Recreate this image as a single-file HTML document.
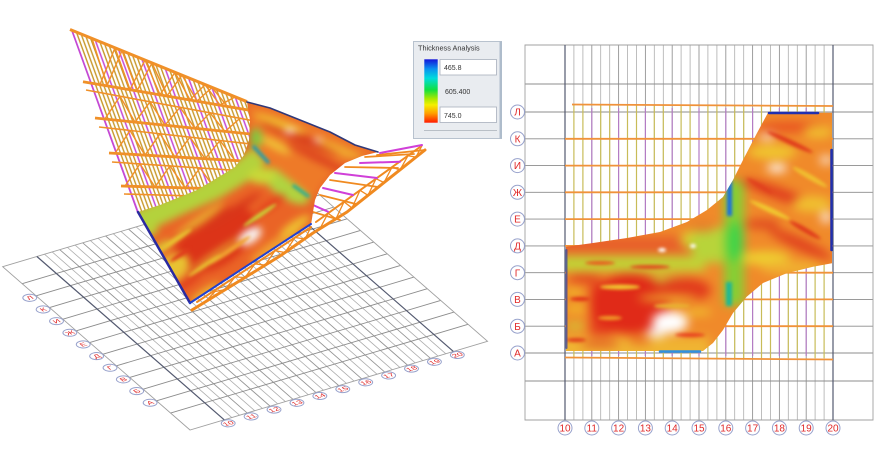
<!DOCTYPE html>
<html><head><meta charset="utf-8"><style>
html,body{margin:0;padding:0;background:#fff;width:890px;height:450px;overflow:hidden}
svg{display:block}
</style></head><body>
<svg width="890" height="450" viewBox="0 0 890 450" xmlns="http://www.w3.org/2000/svg" xmlns:xlink="http://www.w3.org/1999/xlink" font-family="'Liberation Sans', sans-serif">
<defs>
  <filter id="bl" x="-10%" y="-10%" width="120%" height="120%" color-interpolation-filters="sRGB"><feGaussianBlur stdDeviation="5"/></filter>
  <filter id="bl2" x="-10%" y="-10%" width="120%" height="120%" color-interpolation-filters="sRGB"><feGaussianBlur stdDeviation="4"/></filter>
  <filter id="bl1" x="-30%" y="-30%" width="160%" height="160%" color-interpolation-filters="sRGB"><feGaussianBlur stdDeviation="1.5"/></filter>
  <clipPath id="psc"><polygon points="566,246.7 593,243 627,238 660,232 687,222 707,210 723,197 733,180 743,160 757,133 768,112.7 832,112.7 832,263.3 813,266.7 786.7,273.3 763,283 746.7,296.7 733,313 723,330 713,343 703,351 566,351"/></clipPath>
  <clipPath id="s3c"><polygon points="138,212 160,205 197,190 217,178 235,167 244,155 249,140 250,120 247,102 270,108 290,116 330,132 355,145 378,152 362,156 345,163 330,175 320,188 315,200 313,212 311,225 190,303"/></clipPath>
  <linearGradient id="lg" x1="0" y1="0" x2="0" y2="1">
    <stop offset="0" stop-color="#1414d8"/><stop offset="0.15" stop-color="#0a90f0"/>
    <stop offset="0.3" stop-color="#00dcdc"/><stop offset="0.48" stop-color="#10e040"/>
    <stop offset="0.62" stop-color="#a8e800"/><stop offset="0.72" stop-color="#f4f000"/>
    <stop offset="0.85" stop-color="#ffa000"/><stop offset="1" stop-color="#ff1a00"/>
  </linearGradient>
  <pattern id="fanp" patternUnits="userSpaceOnUse" width="18.67" height="20" patternTransform="translate(71.7 30) rotate(-20) translate(-1 0)">
    <line x1="1" y1="-1" x2="1" y2="21" stroke="#c448d4" stroke-width="1.5"/>
    <line x1="4.73" y1="-1" x2="4.73" y2="21" stroke="#c8982a" stroke-width="1.4"/>
    <line x1="8.47" y1="-1" x2="8.47" y2="21" stroke="#c8982a" stroke-width="1.4"/>
    <line x1="12.2" y1="-1" x2="12.2" y2="21" stroke="#c8982a" stroke-width="1.4"/>
    <line x1="15.93" y1="-1" x2="15.93" y2="21" stroke="#c8982a" stroke-width="1.4"/>
  </pattern>
  <g id="grd" fill="none">
    <path vector-effect="non-scaling-stroke" stroke="#aeaeae" stroke-width="0.8" d="M573.9 45V420M582.9 45V420M600.7 45V420M609.7 45V420M627.5 45V420M636.5 45V420M654.3 45V420M663.3 45V420M681.1 45V420M690.1 45V420M707.9 45V420M716.9 45V420M734.7 45V420M743.7 45V420M761.5 45V420M770.5 45V420M788.3 45V420M797.3 45V420M815.1 45V420M824.1 45V420"/>
    <path vector-effect="non-scaling-stroke" stroke="#959595" stroke-width="0.9" d="M591.8 45V420M618.6 45V420M645.4 45V420M672.2 45V420M699 45V420M725.8 45V420M752.6 45V420M779.4 45V420M806.2 45V420"/>
    <path vector-effect="non-scaling-stroke" stroke="#8c8c8c" stroke-width="0.9" d="M525 84H873M525 112H873M525 138.8H873M525 165.6H873M525 192.3H873M525 219.1H873M525 245.9H873M525 272.7H873M525 299.4H873M525 326.2H873M525 353H873M525 381H873"/>
    <path vector-effect="non-scaling-stroke" stroke="#a0a0a0" stroke-width="0.9" d="M525 45H873V420H525Z"/>
    <path vector-effect="non-scaling-stroke" stroke="#545a70" stroke-width="1.2" d="M565 45V420M833 45V420"/>
  </g>
  <g id="lbl">
    <g fill="#fff" stroke="#98a2cc" stroke-width="1">
      <circle vector-effect="non-scaling-stroke" cx="517.5" cy="112" r="7"/>
      <circle vector-effect="non-scaling-stroke" cx="517.5" cy="138.8" r="7"/>
      <circle vector-effect="non-scaling-stroke" cx="517.5" cy="165.6" r="7"/>
      <circle vector-effect="non-scaling-stroke" cx="517.5" cy="192.3" r="7"/>
      <circle vector-effect="non-scaling-stroke" cx="517.5" cy="219.1" r="7"/>
      <circle vector-effect="non-scaling-stroke" cx="517.5" cy="245.9" r="7"/>
      <circle vector-effect="non-scaling-stroke" cx="517.5" cy="272.7" r="7"/>
      <circle vector-effect="non-scaling-stroke" cx="517.5" cy="299.4" r="7"/>
      <circle vector-effect="non-scaling-stroke" cx="517.5" cy="326.2" r="7"/>
      <circle vector-effect="non-scaling-stroke" cx="517.5" cy="353" r="7"/>
      <circle vector-effect="non-scaling-stroke" cx="565" cy="428" r="7"/>
      <circle vector-effect="non-scaling-stroke" cx="591.8" cy="428" r="7"/>
      <circle vector-effect="non-scaling-stroke" cx="618.6" cy="428" r="7"/>
      <circle vector-effect="non-scaling-stroke" cx="645.4" cy="428" r="7"/>
      <circle vector-effect="non-scaling-stroke" cx="672.2" cy="428" r="7"/>
      <circle vector-effect="non-scaling-stroke" cx="699" cy="428" r="7"/>
      <circle vector-effect="non-scaling-stroke" cx="725.8" cy="428" r="7"/>
      <circle vector-effect="non-scaling-stroke" cx="752.6" cy="428" r="7"/>
      <circle vector-effect="non-scaling-stroke" cx="779.4" cy="428" r="7"/>
      <circle vector-effect="non-scaling-stroke" cx="806.2" cy="428" r="7"/>
      <circle vector-effect="non-scaling-stroke" cx="833" cy="428" r="7"/>
    </g>
    <g fill="#e02828" font-size="10" text-anchor="middle">
      <text x="517.5" y="115.6">Л</text>
      <text x="517.5" y="142.4">К</text>
      <text x="517.5" y="169.2">И</text>
      <text x="517.5" y="195.9">Ж</text>
      <text x="517.5" y="222.7">Е</text>
      <text x="517.5" y="249.5">Д</text>
      <text x="517.5" y="276.3">Г</text>
      <text x="517.5" y="303">В</text>
      <text x="517.5" y="329.8">Б</text>
      <text x="517.5" y="356.6">А</text>
      <text x="565" y="431.6">10</text>
      <text x="591.8" y="431.6">11</text>
      <text x="618.6" y="431.6">12</text>
      <text x="645.4" y="431.6">13</text>
      <text x="672.2" y="431.6">14</text>
      <text x="699" y="431.6">15</text>
      <text x="725.8" y="431.6">16</text>
      <text x="752.6" y="431.6">17</text>
      <text x="779.4" y="431.6">18</text>
      <text x="806.2" y="431.6">19</text>
      <text x="833" y="431.6">20</text>
    </g>
  </g>
</defs>

<rect width="890" height="450" fill="#fff"/>

<!-- ================= RIGHT: PLAN VIEW ================= -->
<use xlink:href="#grd" href="#grd"/>
<path fill="none" stroke="#c8bc58" stroke-width="1.2" d="M573.9 105V358M582.9 105V358M600.7 105V358M609.7 105V358M627.5 105V358M636.5 105V358M654.3 105V358M663.3 105V358M681.1 105V358M690.1 105V358M707.9 105V358M716.9 105V358M734.7 105V358M743.7 105V358M761.5 105V358M770.5 105V358M788.3 105V358M797.3 105V358M815.1 105V358M824.1 105V358"/>
<path fill="none" stroke="#b47cc4" stroke-width="1.2" d="M591.8 108V356M618.6 108V356M645.4 108V356M672.2 108V356M699 108V356M725.8 108V356M752.6 108V356M779.4 108V356M806.2 108V356"/>
<path fill="none" stroke="#f0923a" stroke-width="1.8" d="M572 104.5L833 106M565 138.8H833M565 165.6H833M565 192.3H833M565 219.1H833M565 245.9H833M565 272.7H833M565 299.4H833M565 326.2H833M565 357.5L833 359.5"/>

<g clip-path="url(#psc)">
  <g filter="url(#bl)">
    <rect x="545" y="95" width="310" height="275" fill="#f08a2a"/>
    <rect x="550" y="236" width="160" height="18" fill="#e8602a"/>
    <rect x="560" y="256" width="145" height="15" fill="#c0d436"/>
    <ellipse cx="700" cy="240" rx="20" ry="10" fill="#d8d030"/>
    <ellipse cx="585" cy="279" rx="18" ry="4" fill="#e03c1c"/>
    <ellipse cx="655" cy="280" rx="40" ry="4" fill="#c8d438"/>
    <rect x="590" y="284" width="22" height="52" fill="#e4401e"/>
    <ellipse cx="630" cy="304" rx="40" ry="30" fill="#e02a18"/>
    <ellipse cx="683" cy="290" rx="28" ry="12" fill="#e23a1c"/>
    <ellipse cx="668" cy="298" rx="30" ry="3" fill="#f0c030"/>
    <ellipse cx="574" cy="292" rx="9" ry="3" fill="#f0c828"/>
    <ellipse cx="576" cy="309" rx="11" ry="3" fill="#f0c828"/>
    <ellipse cx="575" cy="326" rx="10" ry="3" fill="#c8d438"/>
    <rect x="550" y="337" width="160" height="25" fill="#f0b432"/>
    <ellipse cx="600" cy="344" rx="20" ry="3" fill="#e04a20"/>
    <ellipse cx="640" cy="341" rx="12" ry="3" fill="#e86020"/>
    <ellipse cx="698" cy="312" rx="14" ry="3" fill="#f0c830"/>
    <ellipse cx="670" cy="322" rx="18" ry="11" fill="#ffffff"/>
    <ellipse cx="656" cy="333" rx="10" ry="5" fill="#f8eee8"/>
    <ellipse cx="714" cy="245" rx="24" ry="18" fill="#b8d43a"/>
    <ellipse cx="702" cy="226" rx="14" ry="6" fill="#e8802a"/>
    <rect x="724" y="180" width="20" height="125" fill="#86cf34"/>
    <ellipse cx="735" cy="242" rx="8" ry="20" fill="#40d448"/>
    <ellipse cx="780" cy="194" rx="42" ry="6" transform="rotate(20 780 194)" fill="#e03c1e"/>
    <ellipse cx="800" cy="244" rx="35" ry="6" transform="rotate(25 800 244)" fill="#e0401e"/>
    <ellipse cx="790" cy="127" rx="35" ry="5" fill="#e85020"/>
    <ellipse cx="762" cy="224" rx="18" ry="5" fill="#e04a20"/>
    <ellipse cx="772" cy="152" rx="25" ry="7" fill="#f0c830"/>
    <ellipse cx="812" cy="204" rx="20" ry="8" fill="#f0c030"/>
    <ellipse cx="765" cy="258" rx="25" ry="7" fill="#eed030"/>
    <ellipse cx="818" cy="132" rx="15" ry="6" fill="#f0c030"/>
    <ellipse cx="792" cy="268" rx="32" ry="7" fill="#f0b030"/>
    <ellipse cx="777" cy="168" rx="10" ry="4" fill="#ffffff"/>
    <ellipse cx="826" cy="160" rx="6" ry="4" fill="#fbf0ea"/>
    <ellipse cx="767" cy="137" rx="8" ry="3" fill="#fbf0ea"/>
    <ellipse cx="826" cy="217" rx="5" ry="6" fill="#fbf0ea"/>
  </g>
  <g filter="url(#bl1)">
    <ellipse cx="600" cy="263" rx="15" ry="2" fill="#e85a20"/>
    <ellipse cx="650" cy="267" rx="20" ry="2" fill="#e04a20"/>
    <ellipse cx="662" cy="250" rx="4" ry="2" fill="#ffffff"/>
    <ellipse cx="693" cy="246" rx="3" ry="2" fill="#ffffff"/>
    <ellipse cx="620" cy="287" rx="20" ry="2.5" fill="#f0c830"/>
    <ellipse cx="672" cy="306" rx="18" ry="2.5" fill="#e8b030"/>
    <ellipse cx="580" cy="299" rx="10" ry="2" fill="#e03018"/>
    <ellipse cx="610" cy="318" rx="12" ry="2" fill="#f0a028"/>
    <ellipse cx="690" cy="335" rx="15" ry="2" fill="#e84020"/>
    <ellipse cx="576" cy="340" rx="10" ry="2" fill="#e03c1c"/>
    <ellipse cx="790" cy="142" rx="25" ry="2.5" transform="rotate(25 790 142)" fill="#e03c1c"/>
    <ellipse cx="810" cy="177" rx="20" ry="2.5" transform="rotate(30 810 177)" fill="#f0c030"/>
    <ellipse cx="770" cy="210" rx="22" ry="2.5" transform="rotate(25 770 210)" fill="#f0c830"/>
    <ellipse cx="805" cy="230" rx="18" ry="2.5" transform="rotate(30 805 230)" fill="#e03c1c"/>
    <ellipse cx="760" cy="186" rx="15" ry="2" transform="rotate(30 760 186)" fill="#e0401e"/>
    <rect x="727" y="180" width="5" height="36" fill="#1a6ee0"/>
    <rect x="726" y="282" width="6" height="24" fill="#20b894"/>
  </g>
</g>
<g fill="none" stroke-linecap="round">
  <path d="M566.5 250V348" stroke="#3040a8" stroke-width="2" opacity="0.7"/>
  <path d="M769 113H818" stroke="#2030b0" stroke-width="2.5"/>
  <path d="M831.5 150V250" stroke="#2030b0" stroke-width="2.5"/>
  <path d="M660 351.5H700" stroke="#3090e0" stroke-width="2.5"/>
</g>
<use xlink:href="#lbl" href="#lbl"/>

<!-- ================= LEGEND ================= -->
<rect x="413.5" y="41.5" width="88" height="97" fill="#e9ecf0" stroke="#b8c2ce"/>
<rect x="499.5" y="41.5" width="2.5" height="97" fill="#aebccb"/>
<text x="418" y="50.5" font-size="7.3" fill="#333">Thickness Analysis</text>
<rect x="424.3" y="59.3" width="13.4" height="63.4" fill="url(#lg)"/>
<rect x="440" y="59.5" width="56.5" height="15.5" fill="#fff" stroke="#a8b0bc" stroke-width="0.8"/>
<text x="444" y="70" font-size="7" fill="#333">465.8</text>
<text x="445" y="94" font-size="7" fill="#333">605.400</text>
<rect x="440" y="107" width="56.5" height="15.5" fill="#fff" stroke="#a8b0bc" stroke-width="0.8"/>
<text x="444" y="118" font-size="7" fill="#333">745.0</text>
<line x1="424" y1="130.5" x2="497" y2="130.5" stroke="#a8b0b8" stroke-width="0.8"/>

<!-- ================= LEFT: 3D VIEW ================= -->
<g transform="matrix(0.855 -0.255 0.4995 0.4355 -468.665 380.965)">
  <use xlink:href="#grd" href="#grd"/>
  <use xlink:href="#lbl" href="#lbl"/>
</g>

<!-- fan truss -->
<polygon points="71.7,30 247,101.7 262,160 240,200 138,213" fill="url(#fanp)"/>
<line x1="71.7" y1="30" x2="138" y2="213" stroke="#c448d4" stroke-width="1.6"/>
<g fill="none" stroke="#f09028" stroke-linejoin="round">
  <line x1="70" y1="29.5" x2="247" y2="101.7" stroke-width="3"/>
  <line x1="83" y1="81.7" x2="260" y2="112" stroke-width="2.8"/>
  <line x1="86" y1="90" x2="260" y2="122" stroke-width="1.6"/>
  <line x1="95" y1="118" x2="260" y2="135" stroke-width="2.8"/>
  <line x1="99" y1="127" x2="260" y2="145" stroke-width="1.6"/>
  <line x1="109" y1="153" x2="260" y2="162" stroke-width="2.8"/>
  <line x1="112" y1="162" x2="260" y2="172" stroke-width="1.6"/>
  <line x1="121" y1="186" x2="260" y2="190" stroke-width="2.8"/>
  <line x1="124" y1="194" x2="260" y2="198" stroke-width="1.6"/>
  <polyline stroke-width="1.4" points="100,84.5 115,47.8 130,89.6 145,60.1 160,94.7 175,72.4 190,99.8 205,84.7 220,105 235,97"/>
  <polyline stroke-width="1.4" points="92,38.3 107,85.7 122,50.6 137,90.8 152,62.9 167,95.9 182,75.2 197,101 212,87.5 227,106.1"/>
  <polyline stroke-width="1.4" points="105,118.9 120,96.3 135,122.1 150,101.8 165,125.2 180,107.3 195,128.3 210,112.8 225,131.5 240,118.3"/>
  <polyline stroke-width="1.4" points="115,153.4 130,130.5 145,155.2 160,133.8 175,157 190,137.2 205,158.8 220,140.6 235,160.5"/>
  <polyline stroke-width="1.4" points="125,186.1 140,163.9 155,187 170,165.9 185,187.9 200,168 215,188.7"/>
</g>

<!-- right truss (behind surface) -->
<g fill="none" stroke-linecap="round">
  <line x1="316" y1="222" x2="420" y2="147" stroke="#f08a20" stroke-width="2"/>
  <polyline stroke="#f08a20" stroke-width="1.3" points="320,228.7 328,213.3 336,218.8 344,201.8 352,208 360,190.3 368,195.3 376,178.7 384,182.6 392,167.2 400,169.9 408,155.7 416,157.1 422,145.6"/>
  <g stroke="#f08a20" stroke-width="1.8">
    <line x1="313" y1="212" x2="340" y2="220"/>
    <line x1="320" y1="195" x2="356" y2="204"/>
    <line x1="330" y1="180" x2="378" y2="187"/>
    <line x1="345" y1="167" x2="398" y2="168"/>
    <line x1="365" y1="157" x2="414" y2="154"/>
    <line x1="377" y1="155" x2="425" y2="150"/>
  </g>
  <g stroke="#d040d8" stroke-width="2">
    <line x1="313" y1="205" x2="328" y2="211.7"/>
    <line x1="323" y1="188" x2="353" y2="195"/>
    <line x1="335" y1="173" x2="377" y2="178"/>
    <line x1="360" y1="163" x2="400" y2="161.7"/>
    <line x1="380" y1="153" x2="422" y2="145"/>
  </g>
</g>

<!-- 3D surface -->
<g clip-path="url(#s3c)">
  <g filter="url(#bl2)">
    <rect x="120" y="85" width="280" height="235" fill="#ea6426"/>
    <polygon points="125,215 160,200 197,185 217,173 235,162 252,148 268,160 250,180 220,198 184,214 150,230 125,236" fill="#b4d23c"/>
    <ellipse cx="285" cy="186" rx="28" ry="11" transform="rotate(35 285 186)" fill="#b0d440"/>
    <ellipse cx="262" cy="176" rx="14" ry="8" fill="#c8d838"/>
    <ellipse cx="215" cy="240" rx="46" ry="26" transform="rotate(-34 215 240)" fill="#dc3418"/>
    <ellipse cx="232" cy="212" rx="35" ry="4" transform="rotate(-34 232 212)" fill="#d8361a"/>
    <ellipse cx="200" cy="220" rx="30" ry="4" transform="rotate(-34 200 220)" fill="#e8b030"/>
    <ellipse cx="215" cy="255" rx="35" ry="3" transform="rotate(-34 215 255)" fill="#e8a030"/>
    <ellipse cx="170" cy="270" rx="22" ry="13" transform="rotate(-34 170 270)" fill="#e8c232"/>
    <ellipse cx="160" cy="248" rx="14" ry="3.5" transform="rotate(-34 160 248)" fill="#d8d838"/>
    <ellipse cx="188" cy="282" rx="16" ry="3.5" transform="rotate(-34 188 282)" fill="#e03a1c"/>
    <ellipse cx="205" cy="293" rx="18" ry="3.5" transform="rotate(-34 205 293)" fill="#ecc430"/>
    <ellipse cx="148" cy="230" rx="10" ry="6" fill="#b8d038"/>
    <ellipse cx="275" cy="246" rx="30" ry="6" transform="rotate(-34 275 246)" fill="#f0a030"/>
    <ellipse cx="295" cy="226" rx="18" ry="5" transform="rotate(-34 295 226)" fill="#eec030"/>
    <ellipse cx="270" cy="205" rx="18" ry="4" transform="rotate(-34 270 205)" fill="#e4401c"/>
    <ellipse cx="250" cy="236" rx="13" ry="7" transform="rotate(-34 250 236)" fill="#f8f2f0"/>
    <polygon points="247,102 270,108 290,116 330,132 355,145 378,152 362,156 345,163 330,175 320,188 315,200 290,180 268,163 252,148 250,125" fill="#ee7a28"/>
    <ellipse cx="300" cy="138" rx="42" ry="5" transform="rotate(22 300 138)" fill="#d83c1c"/>
    <ellipse cx="318" cy="158" rx="35" ry="4" transform="rotate(26 318 158)" fill="#dc401e"/>
    <ellipse cx="280" cy="124" rx="28" ry="4" transform="rotate(20 280 124)" fill="#f0c030"/>
    <ellipse cx="340" cy="150" rx="25" ry="3.5" transform="rotate(22 340 150)" fill="#f0b430"/>
    <ellipse cx="275" cy="145" rx="18" ry="4" transform="rotate(28 275 145)" fill="#f0c838"/>
    <ellipse cx="290" cy="131" rx="6" ry="2.5" fill="#fbeee4"/>
    <ellipse cx="318" cy="140" rx="5" ry="2" fill="#fbeee4"/>
    <ellipse cx="256" cy="138" rx="6" ry="10" fill="#80c840"/>
  </g>
  <g filter="url(#bl1)" stroke-linecap="round">
    <ellipse cx="175" cy="240" rx="20" ry="2.5" transform="rotate(-34 175 240)" fill="#e8c030"/>
    <ellipse cx="230" cy="250" rx="25" ry="2.5" transform="rotate(-34 230 250)" fill="#f0a030"/>
    <ellipse cx="205" cy="265" rx="20" ry="2" transform="rotate(-34 205 265)" fill="#e8c030"/>
    <ellipse cx="260" cy="215" rx="20" ry="2" transform="rotate(-34 260 215)" fill="#c8d438"/>
    <ellipse cx="180" cy="255" rx="12" ry="2" transform="rotate(-34 180 255)" fill="#e03a1c"/>
    <line x1="254" y1="147" x2="268" y2="162" stroke="#2a9aa8" stroke-width="3.5"/>
    <line x1="294" y1="186" x2="308" y2="196" stroke="#30b090" stroke-width="3.5"/>
  </g>
</g>
<g fill="none" stroke-linejoin="round" stroke-linecap="round">
  <polyline points="247,102 270,108 290,116 330,132 355,145 378,152" stroke="#303878" stroke-width="1.6"/>
  <line x1="138" y1="212" x2="190" y2="303" stroke="#2a2aa0" stroke-width="2.5"/>
  <line x1="190" y1="303" x2="311" y2="224" stroke="#2040d0" stroke-width="2"/>
</g>

<!-- lower truss (in front) -->
<g fill="none" stroke="#f08a20" stroke-linejoin="round" stroke-linecap="round">
  <polyline points="192,310 280,256 313,233 347,212 425,150" stroke-width="3"/>
  <line x1="197" y1="302" x2="311" y2="227" stroke-width="2"/>
  <polyline stroke-width="1.3" points="205,302 215,291.5 225,289.7 235,277 245,277.5 255,263.8 265,265.2 275,250.7 285,252.5 295,237.5 305,239 311,227"/>
</g>
</svg>
</body></html>
